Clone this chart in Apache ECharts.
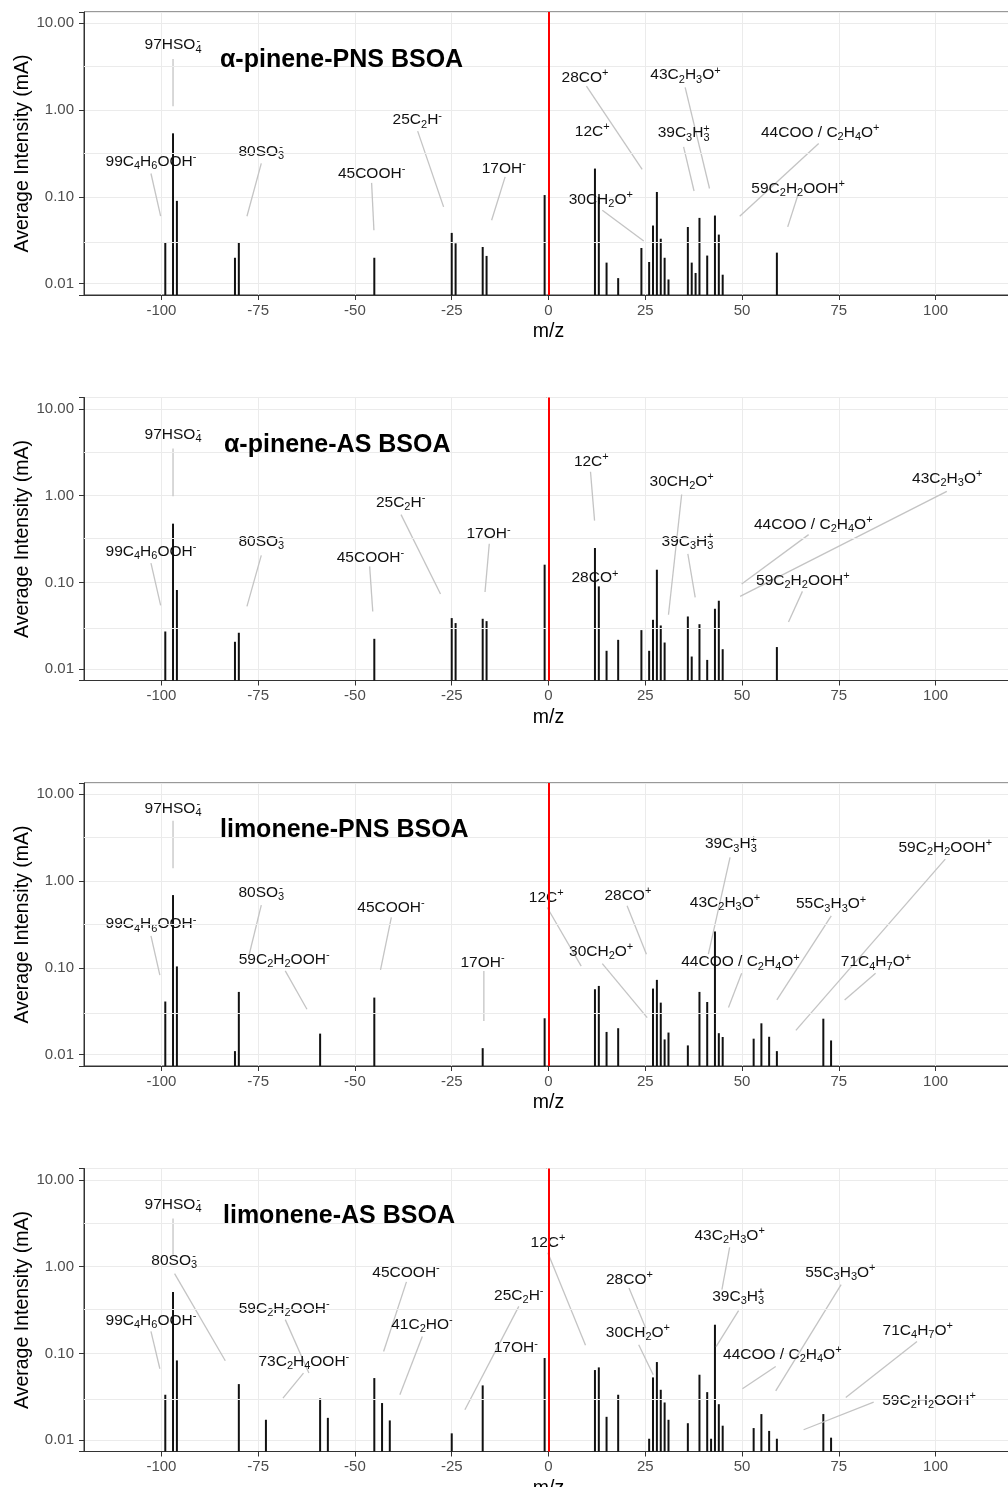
<!DOCTYPE html>
<html><head><meta charset="utf-8">
<script src="https://cdn.jsdelivr.net/npm/echarts@6/dist/echarts.min.js"></script>
<style>html,body{margin:0;padding:0;background:#fff}#chart{width:1008px;height:1487px}</style>
</head><body><div id="chart"></div>
<script>
const FONT = '"Liberation Sans", Arial, Helvetica, sans-serif';

const panelTitles = ['α-pinene-PNS BSOA', 'α-pinene-AS BSOA', 'limonene-PNS BSOA', 'limonene-AS BSOA'];
const xTickValues = [-100, -75, -50, -25, 0, 25, 50, 75, 100];
const yTickValues = [0.01, 0.1, 1, 10];

// ---- α-pinene-PNS BSOA ----
const mzAPinenePNS = [-99,-97,-96,-81,-80,-45,-25,-24,-17,-16,-1,12,13,15,18,24,26,27,28,29,30,31,36,37,38,39,41,43,44,45,59];
const intAPinenePNS = [0.0295,0.54,0.09,0.0199,0.0298,0.0199,0.0385,0.0292,0.0265,0.0209,0.105,0.212,0.1,0.0175,0.0116,0.0258,0.0178,0.0468,0.114,0.033,0.0199,0.0112,0.045,0.0175,0.0133,0.0573,0.0211,0.061,0.0368,0.0127,0.0228];
// [label, labelX, labelY, lineStartX, lineStartY, lineEndX, lineEndY]
const labelsAPinenePNS = [
  ['97HSO{z|  -}{s|4}', -97, 5.62, -97, 3.87, -97, 1.11],
  ['99C{s|4}H{s|6}OOH{p|-}', -102.7, 0.253, -102.7, 0.186, -100.2, 0.0599],
  ['80SO{z|  -}{s|3}', -74.2, 0.33, -74.2, 0.243, -77.9, 0.0599],
  ['45COOH{p|-}', -45.7, 0.186, -45.7, 0.145, -45.1, 0.0413],
  ['25C{s|2}H{p|-}', -33.9, 0.767, -33.8, 0.573, -27.1, 0.0767],
  ['17OH{p|-}', -11.55, 0.213, -11.2, 0.17, -14.7, 0.0538],
  ['28CO{p|+}', 9.43, 2.38, 9.8, 1.89, 24.2, 0.207],
  ['12C{p|+}', 11.3, 0.562],
  ['30CH{s|2}O{p|+}', 13.5, 0.094, 13.9, 0.0703, 24.6, 0.0311],
  ['43C{s|2}H{s|3}O{p|+}', 35.4, 2.53, 35.3, 1.83, 41.6, 0.125],
  ['39C{s|3}H{z|  +}{s|3}', 34.9, 0.543, 34.9, 0.377, 37.6, 0.117],
  ['44COO / C{s|2}H{s|4}O{p|+}', 70.2, 0.553, 69.8, 0.413, 49.4, 0.0599],
  ['59C{s|2}H{s|2}OOH{p|+}', 64.5, 0.125, 64.6, 0.111, 61.8, 0.0451]
];

// ---- α-pinene-AS BSOA ----
const mzAPineneAS = [-99,-97,-96,-81,-80,-45,-25,-24,-17,-16,-1,12,13,15,18,24,26,27,28,29,30,36,37,39,41,43,44,45,59];
const intAPineneAS = [0.0272,0.475,0.0817,0.0207,0.0263,0.0224,0.0388,0.034,0.0381,0.0358,0.16,0.249,0.09,0.0163,0.0218,0.0282,0.0163,0.0371,0.14,0.0319,0.0203,0.0405,0.014,0.033,0.0128,0.0497,0.0615,0.017,0.018];
const labelsAPineneAS = [
  ['97HSO{z|  -}{s|4}', -97, 5.05, -97, 3.48, -97, 0.98],
  ['99C{s|4}H{s|6}OOH{p|-}', -102.7, 0.228, -102.7, 0.167, -100.2, 0.0543],
  ['80SO{z|  -}{s|3}', -74.2, 0.297, -74.2, 0.205, -77.9, 0.0529],
  ['45COOH{p|-}', -46.0, 0.194, -46.2, 0.153, -45.4, 0.0463],
  ['25C{s|2}H{p|-}', -38.2, 0.824, -38.1, 0.604, -27.9, 0.0735],
  ['17OH{p|-}', -15.5, 0.361, -15.3, 0.279, -16.4, 0.0775],
  ['12C{p|+}', 11.06, 2.45, 10.85, 1.88, 11.9, 0.515],
  ['28CO{p|+}', 12.0, 0.112],
  ['30CH{s|2}O{p|+}', 34.4, 1.45, 34.4, 1.03, 31.0, 0.0424],
  ['39C{s|3}H{z|  +}{s|3}', 35.9, 0.295, 36.0, 0.213, 37.9, 0.0671],
  ['43C{s|2}H{s|3}O{p|+}', 103.0, 1.56, 102.9, 1.12, 49.5, 0.069],
  ['44COO / C{s|2}H{s|4}O{p|+}', 68.4, 0.463, 67.2, 0.355, 49.9, 0.0959],
  ['59C{s|2}H{s|2}OOH{p|+}', 65.7, 0.105, 65.6, 0.0788, 62.0, 0.0349]
];

// ---- limonene-PNS BSOA ----
const mzLimonenePNS = [-99,-97,-96,-81,-80,-59,-45,-17,-1,12,13,15,18,27,28,29,30,31,36,39,41,43,44,45,53,55,57,59,71,73];
const intLimonenePNS = [0.041,0.69,0.104,0.011,0.0529,0.0175,0.0455,0.0119,0.0263,0.0568,0.062,0.0183,0.0202,0.0578,0.0728,0.0398,0.015,0.018,0.0128,0.0529,0.0405,0.263,0.0177,0.016,0.0153,0.023,0.0161,0.011,0.026,0.0146];
const labelsLimonenePNS = [
  ['97HSO{z|  -}{s|4}', -97, 6.9, -97, 4.96, -97, 1.41],
  ['99C{s|4}H{s|6}OOH{p|-}', -102.7, 0.319, -102.7, 0.234, -100.4, 0.0824],
  ['80SO{z|  -}{s|3}', -74.2, 0.741, -74.2, 0.529, -77.4, 0.138],
  ['59C{s|2}H{s|2}OOH{p|-}', -68.3, 0.124, -68.0, 0.0923, -62.4, 0.0334],
  ['45COOH{p|-}', -40.7, 0.497, -40.6, 0.381, -43.4, 0.0948],
  ['17OH{p|-}', -17.05, 0.115, -16.7, 0.0923, -16.7, 0.0245],
  ['12C{p|+}', -0.57, 0.649, -0.34, 0.497, 8.45, 0.105],
  ['28CO{p|+}', 20.5, 0.676, 20.3, 0.519, 25.3, 0.144],
  ['30CH{s|2}O{p|+}', 13.6, 0.153, 13.9, 0.112, 25.5, 0.0268],
  ['39C{s|3}H{z|  +}{s|3}', 47.1, 2.67, 46.9, 1.88, 41.3, 0.144],
  ['43C{s|2}H{s|3}O{p|+}', 45.6, 0.568],
  ['44COO / C{s|2}H{s|4}O{p|+}', 49.6, 0.117, 49.9, 0.0869, 46.5, 0.0349],
  ['55C{s|3}H{s|3}O{p|+}', 73.0, 0.543, 73.05, 0.398, 59.0, 0.0428],
  ['59C{s|2}H{s|2}OOH{p|+}', 102.5, 2.45, 102.5, 1.79, 63.9, 0.0191],
  ['71C{s|4}H{s|7}O{p|+}', 84.6, 0.117, 84.5, 0.0869, 76.5, 0.0428]
];

// ---- limonene-AS BSOA ----
const mzLimoneneAS = [-99,-97,-96,-80,-73,-59,-57,-45,-43,-41,-25,-17,-1,12,13,15,18,26,27,28,29,30,31,36,39,41,42,43,44,45,53,55,57,59,71,73];
const intLimoneneAS = [0.0334,0.51,0.083,0.0443,0.0172,0.0303,0.0181,0.052,0.0268,0.0169,0.012,0.0428,0.0885,0.0643,0.069,0.0186,0.0334,0.0104,0.0529,0.0795,0.0381,0.0272,0.0172,0.0157,0.0568,0.0358,0.0104,0.214,0.026,0.0147,0.0138,0.02,0.0128,0.0104,0.02,0.0107];
const labelsLimoneneAS = [
  ['97HSO{z|  -}{s|4}', -97, 5.19, -97, 3.58, -97, 1.37],
  ['80SO{z|  -}{s|3}', -96.7, 1.17, -96.6, 0.83, -83.5, 0.0824],
  ['99C{s|4}H{s|6}OOH{p|-}', -102.7, 0.24, -102.7, 0.179, -100.4, 0.0666],
  ['59C{s|2}H{s|2}OOH{p|-}', -68.3, 0.328, -68.0, 0.245, -61.9, 0.0594],
  ['73C{s|2}H{s|4}OOH{p|-}', -63.2, 0.0809, -63.3, 0.0594, -68.6, 0.0306],
  ['45COOH{p|-}', -36.8, 0.846, -36.7, 0.667, -42.6, 0.105],
  ['41C{s|2}HO{p|-}', -32.7, 0.214, -32.6, 0.157, -38.4, 0.0334],
  ['25C{s|2}H{p|-}', -7.67, 0.467, -7.67, 0.348, -21.6, 0.0224],
  ['17OH{p|-}', -8.45, 0.115],
  ['12C{p|+}', -0.13, 1.88, -0.18, 1.44, 9.56, 0.124],
  ['28CO{p|+}', 20.9, 0.708, 20.8, 0.568, 25.1, 0.196],
  ['30CH{s|2}O{p|+}', 23.1, 0.172, 23.3, 0.126, 27.05, 0.0568],
  ['43C{s|2}H{s|3}O{p|+}', 46.8, 2.28, 46.8, 1.67, 44.8, 0.543],
  ['39C{s|3}H{z|  +}{s|3}', 49.0, 0.454, 49.1, 0.311, 43.3, 0.12],
  ['55C{s|3}H{s|3}O{p|+}', 75.4, 0.846, 75.6, 0.62, 58.7, 0.0371],
  ['44COO / C{s|2}H{s|4}O{p|+}', 60.4, 0.0966, 58.7, 0.0708, 50.1, 0.0392],
  ['71C{s|4}H{s|7}O{p|+}', 95.4, 0.183, 95.2, 0.137, 76.8, 0.0311],
  ['59C{s|2}H{s|2}OOH{p|+}', 98.3, 0.0285, 84.0, 0.0275, 65.9, 0.0132]
];

const panels = [
  {title: panelTitles[0], mz: mzAPinenePNS, intensity: intAPinenePNS, labels: labelsAPinenePNS},
  {title: panelTitles[1], mz: mzAPineneAS, intensity: intAPineneAS, labels: labelsAPineneAS},
  {title: panelTitles[2], mz: mzLimonenePNS, intensity: intLimonenePNS, labels: labelsLimonenePNS},
  {title: panelTitles[3], mz: mzLimoneneAS, intensity: intLimoneneAS, labels: labelsLimoneneAS}
];

// layout
const gridTops = [12, 397.5, 783, 1168.5];
const titlePos = [[220, 45], [224, 430], [220, 815], [223, 1201]];
const Y_MIN = Math.pow(10, -2.13), Y_MAX = Math.pow(10, 1.13);
const minorY = [-1.5, -0.5, 0.5].map(e => Math.pow(10, e));

const SUBSZ = 11;
const RICH = {
  s: {fontSize: SUBSZ, lineHeight: 11, verticalAlign: 'bottom', fontFamily: FONT, fill: '#111'},
  p: {fontSize: SUBSZ, lineHeight: 11, verticalAlign: 'top', fontFamily: FONT, fill: '#111'},
  z: {fontSize: SUBSZ, lineHeight: 11, verticalAlign: 'top', width: 0, fontFamily: FONT, fill: '#111'}
};

function yFmt(v) {
  const l = Math.log10(v);
  return Math.abs(l - Math.round(l)) < 1e-6 ? v.toFixed(2) : '';
}

const series = [];
panels.forEach((p, i) => {
  series.push({
    type: 'line', xAxisIndex: i, yAxisIndex: i, z: 1, silent: true,
    data: [[0, 1]], symbol: 'none', lineStyle: {opacity: 0},
    markLine: {
      silent: true, symbol: ['none', 'none'], animation: false, label: {show: false},
      data: minorY.map(v => ({yAxis: v, lineStyle: {color: '#ebebeb', width: 1, type: 'solid'}}))
        .concat([{xAxis: 0, lineStyle: {color: '#ff0000', width: 2, type: 'solid'}}])
    }
  });
  series.push({
    type: 'custom', xAxisIndex: i, yAxisIndex: i, z: 3, silent: true,
    data: p.mz.map((m, k) => [m, p.intensity[k]]),
    renderItem: (params, api) => {
      const top = api.coord([api.value(0), api.value(1)]);
      const cs = params.coordSys;
      const bottom = cs.y + cs.height;
      return {type: 'rect', shape: {x: top[0] - 1, y: top[1], width: 2, height: bottom - top[1]}, style: {fill: '#111'}};
    }
  });
  const labels = p.labels;
  series.push({
    type: 'custom', xAxisIndex: i, yAxisIndex: i, z: 4, silent: true,
    data: labels.map((d, k) => [d[1], d[2], k]),
    renderItem: (params, api) => {
      const d = labels[api.value(2)];
      const c = api.coord([d[1], d[2]]);
      const children = [];
      if (d.length > 3) {
        const a = api.coord([d[3], d[4]]), b = api.coord([d[5], d[6]]);
        children.push({type: 'line', shape: {x1: a[0], y1: a[1], x2: b[0], y2: b[1]}, style: {stroke: '#c4c4c4', lineWidth: 1.3}});
      }
      children.push({type: 'text', x: c[0], y: c[1], style: {
        text: d[0], rich: RICH, fill: '#111', fontSize: 15.5, fontFamily: FONT, lineHeight: 20,
        align: 'center', verticalAlign: 'middle'
      }});
      return {type: 'group', children};
    }
  });
});

const option = {
  backgroundColor: '#fff',
  animation: false,
  textStyle: {fontFamily: FONT},
  title: panels.map((p, i) => ({
    text: p.title, left: titlePos[i][0], top: titlePos[i][1], padding: 0,
    textStyle: {fontSize: 25, fontWeight: 'bold', color: '#000', fontFamily: FONT, lineHeight: 30}
  })),
  grid: gridTops.map(t => ({left: 84, top: t, width: 929, height: 283, show: true, borderColor: '#333', borderWidth: 1, backgroundColor: '#fff', containLabel: false, outerBoundsMode: 'none'})),
  xAxis: panels.map((p, i) => ({
    gridIndex: i, type: 'value', min: -120, max: 120, interval: 5,
    name: 'm/z', nameLocation: 'middle', nameGap: 27, nameMoveOverlap: false,
    nameTextStyle: {fontSize: 19.5, color: '#000', fontFamily: FONT},
    axisLine: {show: true, onZero: false, lineStyle: {color: '#333', width: 1}},
    axisTick: {show: true, length: 5, lineStyle: {color: '#333'}, customValues: xTickValues},
    axisLabel: {customValues: xTickValues, formatter: v => (v % 25 === 0 ? String(v) : ''), color: '#4d4d4d', fontSize: 15, margin: 8, fontFamily: FONT},
    splitLine: {show: true, lineStyle: {color: '#ebebeb', width: 1}}
  })),
  yAxis: panels.map((p, i) => ({
    gridIndex: i, type: 'log', logBase: 10, min: Y_MIN, max: Y_MAX,
    name: 'Average Intensity (mA)', nameLocation: 'middle', nameGap: 51, nameMoveOverlap: false,
    nameTextStyle: {fontSize: 19.5, color: '#000', fontFamily: FONT},
    axisLine: {show: true, onZero: false, lineStyle: {color: '#333', width: 1}},
    axisTick: {show: true, length: 5, lineStyle: {color: '#333'}},
    axisLabel: {formatter: yFmt, color: '#4d4d4d', fontSize: 15, margin: 10, fontFamily: FONT},
    splitLine: {show: true, lineStyle: {color: '#ebebeb', width: 1}}
  })),
  series
};

const chart = echarts.init(document.getElementById('chart'), null, {renderer: 'canvas', width: 1008, height: 1487});
chart.setOption(option);
</script>
</body></html>
